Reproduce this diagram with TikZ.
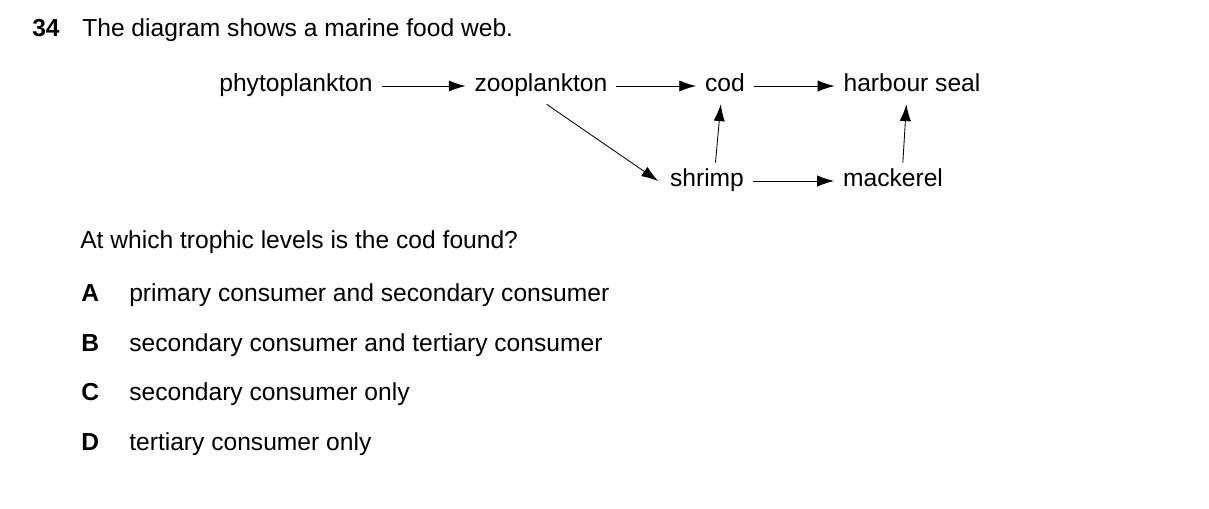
\documentclass[tikz,border=0pt]{standalone}
\usepackage{fontspec}
\setmainfont{Liberation Sans}
\usetikzlibrary{arrows.meta}
\tikzset{
  org/.style={inner sep=0.22cm, text height=0.36cm, text depth=0.1cm, font=\fontsize{17.5}{20}\selectfont},
  txt/.style={inner sep=0pt, anchor=base west, font=\fontsize{17.5}{20}\selectfont},
  feeds/.style={-{Latex[length=0.42cm,width=0.28cm]}, semithick}
}
\begin{document}
\begin{tikzpicture}[x=0.025cm, y=-0.025cm]%
        \useasboundingbox (0,0) rectangle (1209,508);
        \node [txt, font=\fontsize{17.5}{20}\selectfont\bfseries] (num) at (32,36) {34};
        \node [txt] (title) at (82,36) {The diagram shows a marine food web.};
        % food web
        \node [org] (phyto) at (296,86) {phytoplankton};
        \node [org] (zoo) at (541,86) {zooplankton};
        \node [org] (cod) at (725,86) {cod};
        \node [org] (seal) at (912,86) {harbour seal};
        \node [org] (shrimp) at (707,181) {shrimp};
        \node [org] (mack) at (893,181) {mackerel};
        \draw [feeds] (phyto) -- (zoo);
        \draw [feeds] (zoo) -- (cod);
        \draw [feeds] (cod) -- (seal);
        \draw [feeds] (shrimp) -- (mack);
        \draw [feeds] ([xshift=4]zoo.south) -- ([xshift=-2]shrimp.west);
        \draw [feeds] ([xshift=6]shrimp.north) -- ([xshift=-3]cod.south);
        \draw [feeds] ([xshift=7]mack.north) -- ([xshift=-4]seal.south);
        % question
        \node [txt] (q) at (80,248) {At which trophic levels is the cod found?};
        \foreach \l/\t [count=\i] in {A/primary consumer and secondary consumer,
            B/secondary consumer and tertiary consumer,
            C/secondary consumer only,
            D/tertiary consumer only} {
            \node [txt, font=\fontsize{17.5}{20}\selectfont\bfseries] (opt\l) at (81,{252+49.5*\i}) {\l};
            \node [txt] (ans\l) at (129,{252+49.5*\i}) {\t};
        }
    \end{tikzpicture}
\end{document}
